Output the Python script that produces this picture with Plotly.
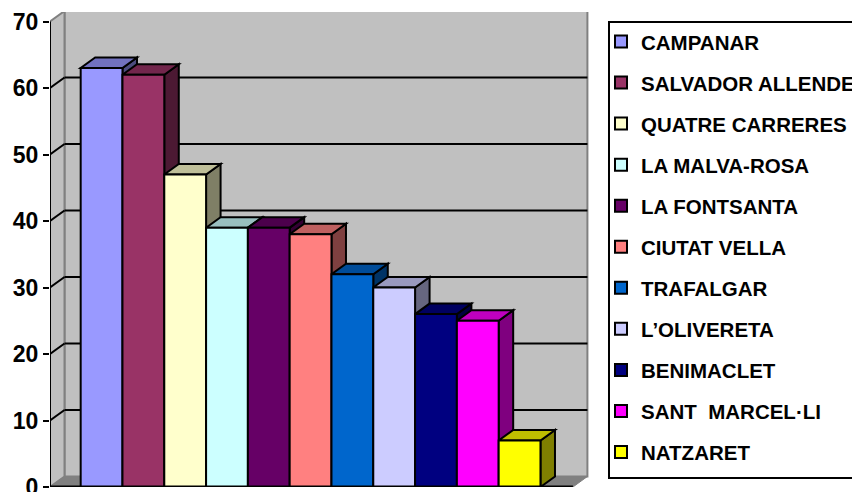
import plotly.graph_objects as go

districts = ["CAMPANAR", "SALVADOR ALLENDE", "QUATRE CARRERES", "LA MALVA-ROSA",
             "LA FONTSANTA", "CIUTAT VELLA", "TRAFALGAR", "L\u2019OLIVERETA",
             "BENIMACLET", "SANT\u00a0 MARCEL\u00b7LI", "NATZARET"]
values = [63, 62, 47, 39, 39, 38, 32, 30, 26, 25, 7]
colors = ["#9999FF", "#993366", "#FFFFCC", "#CCFFFF", "#660066", "#FF8080",
          "#0066CC", "#CCCCFF", "#000080", "#FF00FF", "#FFFF00"]
y_ticks = [0, 10, 20, 30, 40, 50, 60, 70]

# 3D geometry (in axis units)
DX, DY = 0.347, 1.58
FIRST = 0.734
FLOOR_END = 12.51
YMAX = 70
WALL = "#C0C0C0"
EDGE = "#808080"


def shade(hexcol, f):
    h = hexcol.lstrip("#")
    r, g, b = (int(h[i:i + 2], 16) for i in (0, 2, 4))
    return "#%02X%02X%02X" % (int(r * f), int(g * f), int(b * f))


shapes = []
# back wall
shapes.append(dict(type="rect", xref="x", yref="y", x0=DX, x1=FLOOR_END + DX,
                   y0=DY, y1=YMAX + DY, fillcolor=WALL, line=dict(color=EDGE, width=2),
                   layer="below"))
# left wall
shapes.append(dict(type="path", xref="x", yref="y",
                   path=f"M0,0 L{DX},{DY} L{DX},{YMAX + DY} L0,{YMAX} Z",
                   fillcolor=WALL, line=dict(color=EDGE, width=2), layer="below"))
# floor
shapes.append(dict(type="path", xref="x", yref="y",
                   path=f"M0,0 L{FLOOR_END},0 L{FLOOR_END + DX},{DY} L{DX},{DY} Z",
                   fillcolor=EDGE, line=dict(color=EDGE, width=1), layer="below"))
# gridlines on back wall and diagonals on left wall
for t in y_ticks[1:-1]:
    shapes.append(dict(type="line", xref="x", yref="y", x0=DX, x1=FLOOR_END + DX,
                       y0=t + DY, y1=t + DY, line=dict(color="black", width=2), layer="below"))
    shapes.append(dict(type="line", xref="x", yref="y", x0=0, x1=DX,
                       y0=t, y1=t + DY, line=dict(color="black", width=2), layer="below"))

# bar side and top faces, left to right
for i, (v, c) in enumerate(zip(values, colors)):
    x0 = FIRST + i
    x1 = x0 + 1
    shapes.append(dict(type="path", xref="x", yref="y",
                       path=f"M{x1},0 L{x1 + DX},{DY} L{x1 + DX},{v + DY} L{x1},{v} Z",
                       fillcolor=shade(c, 0.5), line=dict(color="black", width=2), layer="below"))
    shapes.append(dict(type="path", xref="x", yref="y",
                       path=f"M{x0},{v} L{x1},{v} L{x1 + DX},{v + DY} L{x0 + DX},{v + DY} Z",
                       fillcolor=shade(c, 0.75), line=dict(color="black", width=2), layer="below"))

# front axis lines
shapes.append(dict(type="line", xref="x", yref="y", x0=0, x1=0, y0=0, y1=YMAX,
                   line=dict(color="black", width=2), layer="above"))
shapes.append(dict(type="line", xref="x", yref="y", x0=0, x1=FLOOR_END, y0=0, y1=0,
                   line=dict(color="black", width=3), layer="above"))
shapes.append(dict(type="line", xref="x", yref="y", x0=FLOOR_END, x1=FLOOR_END, y0=0, y1=-1,
                   line=dict(color="black", width=2), layer="above"))

# legend frame (runs past the right edge of the picture, as in the original)
shapes.append(dict(type="rect", xref="paper", yref="paper", x0=1.0371, x1=1.6,
                   y0=0.0189, y1=0.9789, fillcolor="rgba(0,0,0,0)",
                   line=dict(color="black", width=2), layer="above"))

fig = go.Figure()
for i, (name, v, c) in enumerate(zip(districts, values, colors)):
    fig.add_trace(go.Bar(x=[FIRST + i + 0.5], y=[v], width=[1], name=name,
                         legendgroup=name,
                         marker=dict(color=c, line=dict(color="black", width=2)),
                         hoverinfo="name+y"))

# the page has an 8px body margin, so the figure is drawn 8px smaller and shifted
fig.update_layout(
    width=852, height=484,
    margin=dict(l=42, r=271, t=4, b=5, autoexpand=False),
    paper_bgcolor="white", plot_bgcolor="white",
    barmode="overlay",
    shapes=shapes,
    showlegend=True,
    legend=dict(x=1.0371, y=0.9796, xanchor="left", yanchor="top",
                borderwidth=0, bgcolor="rgba(0,0,0,0)",
                indentation=-8,
                font=dict(family="Arial, Liberation Sans", size=20.5, color="black", weight="bold"),
                tracegroupgap=11.4, traceorder="grouped"),
    xaxis=dict(range=[0, 12.895], showgrid=False, zeroline=False, showticklabels=False,
               ticks="", showline=False, fixedrange=True),
    yaxis=dict(range=[0, 71.43], tickvals=y_ticks, showgrid=False, zeroline=False,
               ticks="outside", ticklen=6, tickwidth=2, tickcolor="black",
               ticklabeloverflow="allow",
               tickfont=dict(family="Arial, Liberation Sans", size=23, color="black", weight="bold"),
               showline=False, fixedrange=True),
)

fig.write_html("out.html")
